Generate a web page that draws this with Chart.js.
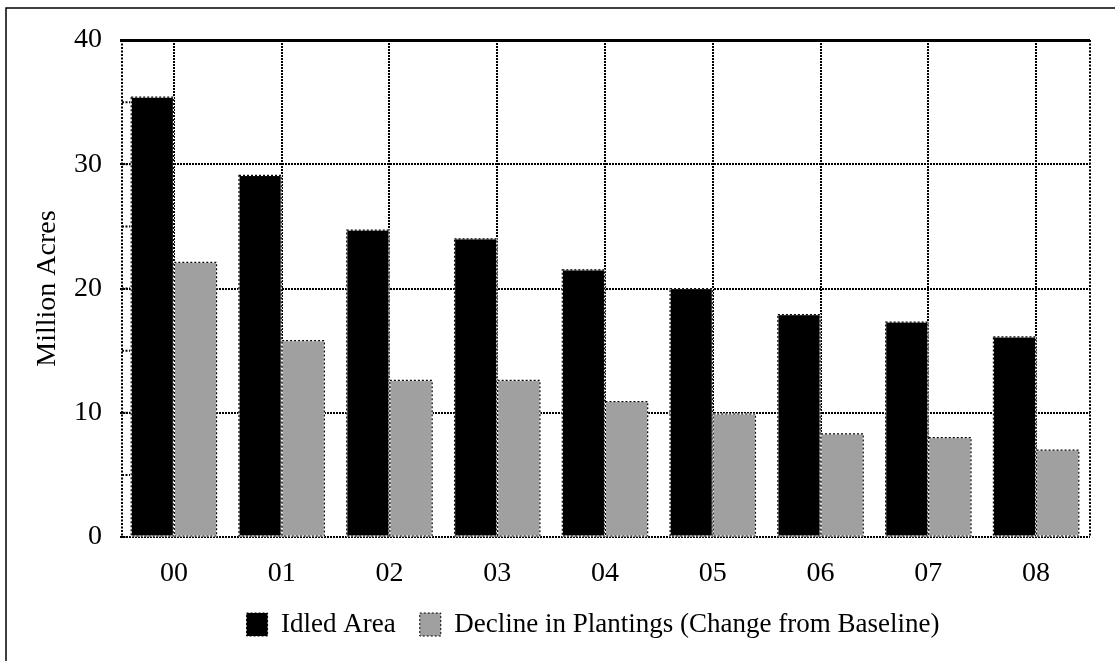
<!DOCTYPE html>
<html>
<head>
<meta charset="utf-8">
<script src="https://cdn.jsdelivr.net/npm/chart.js@4.4.1/dist/chart.umd.min.js"></script>
<style>
  html, body { margin: 0; padding: 0; background: #fff; }
  #wrap { width: 1115px; height: 661px; position: relative; }
</style>
</head>
<body>
<div id="wrap"><canvas id="chart"></canvas></div>
<script>
// years (2000-2008 shown as two digits)
const years = ['00', '01', '02', '03', '04', '05', '06', '07', '08'];
// million acres
const idledArea = [35.4, 29.1, 24.7, 24.0, 21.5, 20.0, 17.9, 17.3, 16.1];
const declineInPlantings = [22.1, 15.8, 12.6, 12.6, 10.9, 9.9, 8.3, 8.0, 7.0];
const yTicks = [0, 10, 20, 30, 40];
const minorTicks = [5, 15, 25, 35];

const serif = "'Liberation Serif', 'Times New Roman', serif";

// page frame, dotted bar outlines, plot edges and small ticks
const decorations = {
    id: 'decorations',
    afterLayout(chart) {
        // legend sits centred under the plot, not the whole canvas
        const area = chart.chartArea;
        const shift = (area.left + area.right) / 2 - (chart.legend.left + chart.legend.right) / 2 - 12;
        chart.legend.left += shift;
        chart.legend.right += shift;
    },
    beforeDraw(chart) {
        const ctx = chart.ctx;
        ctx.save();
        ctx.fillStyle = '#fff';
        ctx.fillRect(0, 0, chart.width, chart.height);
        ctx.strokeStyle = '#000';
        ctx.lineWidth = 1.5;
        ctx.beginPath();
        ctx.moveTo(6, chart.height + 5);
        ctx.lineTo(6, 8);
        ctx.lineTo(chart.width + 5, 8);
        ctx.stroke();
        ctx.restore();
    },
    afterDatasetsDraw(chart) {
        const ctx = chart.ctx;
        const area = chart.chartArea;
        ctx.save();
        // outlines of every bar
        chart.data.datasets.forEach((ds, i) => {
            chart.getDatasetMeta(i).data.forEach(bar => {
                const p = bar.getProps(['x', 'y', 'base', 'width'], true);
                const x0 = p.x - p.width / 2, x1 = p.x + p.width / 2;
                ctx.lineWidth = 1.2;
                ctx.setLineDash([]);
                ctx.strokeStyle = '#fff';
                ctx.strokeRect(x0, p.y, x1 - x0, p.base - p.y);
                ctx.setLineDash([2, 2]);
                ctx.strokeStyle = '#000';
                ctx.strokeRect(x0, p.y, x1 - x0, p.base - p.y);
            });
        });
        // left and right edges of the plot
        ctx.lineWidth = 2;
        ctx.setLineDash([2, 1.5]);
        ctx.strokeStyle = '#000';
        ctx.beginPath();
        ctx.moveTo(area.left + 2, area.top);
        ctx.lineTo(area.left + 2, area.bottom);
        ctx.moveTo(area.right, area.top);
        ctx.lineTo(area.right, area.bottom);
        ctx.stroke();
        // short inside ticks on the value axis
        const yScale = chart.scales.y;
        ctx.beginPath();
        yTicks.concat(minorTicks).forEach(v => {
            const y = yScale.getPixelForValue(v);
            ctx.moveTo(area.left + 2, y);
            ctx.lineTo(area.left + 10, y);
        });
        ctx.stroke();
        ctx.restore();
    }
};

new Chart(document.getElementById('chart'), {
    type: 'bar',
    data: {
        labels: years,
        datasets: [
            {
                label: 'Idled Area',
                data: idledArea,
                backgroundColor: '#000',
                borderWidth: 0
            },
            {
                label: 'Decline in Plantings (Change from Baseline)',
                data: declineInPlantings,
                backgroundColor: '#a0a0a0',
                borderWidth: 0
            }
        ]
    },
    options: {
        responsive: true,
        maintainAspectRatio: false,
        animation: false,
        layout: { padding: { left: 0, top: 40, right: 25, bottom: 13 } },
        datasets: {
            bar: { categoryPercentage: 0.8, barPercentage: 0.98 }
        },
        plugins: {
            tooltip: { enabled: false },
            legend: {
                position: 'bottom',
                labels: {
                    color: '#000',
                    font: { family: serif, size: 27 },
                    boxWidth: 21,
                    boxHeight: 23,
                    padding: 24,
                    generateLabels(chart) {
                        return chart.data.datasets.map((ds, i) => ({
                            text: ds.label,
                            fillStyle: ds.backgroundColor,
                            strokeStyle: '#000',
                            lineWidth: 1,
                            lineDash: [2, 2],
                            hidden: false,
                            datasetIndex: i
                        }));
                    }
                }
            }
        },
        scales: {
            x: {
                grid: {
                    offset: false,
                    drawTicks: false,
                    color: '#000',
                    lineWidth: 2
                },
                border: { display: false, dash: [2, 1] },
                ticks: {
                    color: '#000',
                    font: { family: serif, size: 28 },
                    padding: 20
                },
                afterFit(scale) { scale.height = 50; }
            },
            y: {
                min: 0,
                max: 40,
                afterBuildTicks(scale) {
                    scale.ticks = yTicks.map(v => ({ value: v }));
                },
                grid: {
                    drawTicks: false,
                    color: '#000',
                    lineWidth: ctx => (ctx.tick && ctx.tick.value === 40 ? 3 : 2)
                },
                border: {
                    display: false,
                    dash: ctx => (ctx.tick && ctx.tick.value === 40 ? [] : [2, 1])
                },
                ticks: {
                    color: '#000',
                    font: { family: serif, size: 28 },
                    padding: 18
                },
                title: {
                    display: true,
                    text: 'Million Acres',
                    color: '#000',
                    font: { family: serif, size: 28 },
                    padding: { top: 31, bottom: 0 }
                },
                afterFit(scale) { scale.width = 120; }
            }
        }
    },
    plugins: [decorations]
});
</script>
</body>
</html>
